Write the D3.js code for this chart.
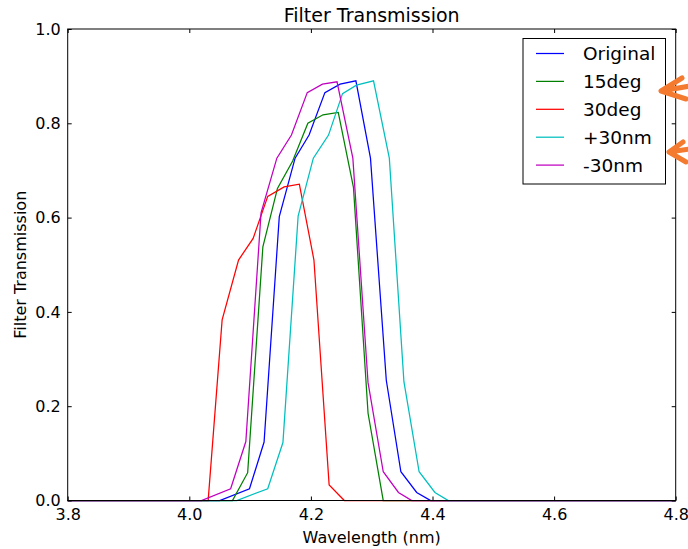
<!DOCTYPE html>
<html>
<head>
  <title>Filter Transmission</title>
  <script src="https://d3js.org/d3.v7.min.js"></script>
  <style>
    body { margin: 0; background: #fff; font-family: "DejaVu Sans", sans-serif; }
    .axis path, .axis line { fill: none; stroke: #000; }
    .axis text { font-size: 16px; fill: #000; }
    .title { font-size: 19px; text-anchor: middle; }
    .axis-label { font-size: 16px; text-anchor: middle; }
    .legend text { font-size: 18.5px; }
    .arrow { fill: none; stroke: #f47a30; stroke-width: 5; stroke-linecap: round; stroke-linejoin: round; }
  </style>
</head>
<body>
  <div id="chart"></div>
  <script>
    // data (wavelength as labelled, transmission 0..1)
    const seriesNames = ["Original", "15deg", "30deg", "+30nm", "-30nm"];
    const seriesColors = ["#0000ff", "#008000", "#ff0000", "#00bfbf", "#bf00bf"];

    const originalWl = [3.8, 4.05, 4.099, 4.123, 4.148, 4.174, 4.197, 4.223, 4.248, 4.274, 4.298, 4.324, 4.348, 4.374, 4.397, 4.8];
    const originalT  = [0, 0, 0.025, 0.124, 0.602, 0.726, 0.775, 0.865, 0.883, 0.890, 0.726, 0.255, 0.061, 0.017, 0, 0];

    const deg15Wl = [3.8, 4.071, 4.096, 4.121, 4.145, 4.170, 4.195, 4.220, 4.245, 4.270, 4.294, 4.319, 4.8];
    const deg15T  = [0, 0, 0.059, 0.538, 0.662, 0.720, 0.800, 0.818, 0.823, 0.664, 0.185, 0, 0];

    const deg30Wl = [3.8, 4.031, 4.054, 4.081, 4.105, 4.129, 4.156, 4.181, 4.205, 4.230, 4.255, 4.8];
    const deg30T  = [0, 0, 0.383, 0.510, 0.556, 0.645, 0.665, 0.671, 0.510, 0.033, 0, 0];

    const plus30Wl = [3.8, 4.078, 4.129, 4.154, 4.179, 4.204, 4.229, 4.252, 4.275, 4.303, 4.329, 4.353, 4.378, 4.404, 4.426, 4.8];
    const plus30T  = [0, 0, 0.025, 0.123, 0.603, 0.726, 0.775, 0.863, 0.881, 0.890, 0.726, 0.252, 0.061, 0.017, 0, 0];

    const minus30Wl = [3.8, 4.020, 4.068, 4.093, 4.118, 4.144, 4.168, 4.194, 4.219, 4.243, 4.269, 4.294, 4.319, 4.344, 4.366, 4.8];
    const minus30T  = [0, 0, 0.025, 0.125, 0.610, 0.726, 0.775, 0.865, 0.883, 0.888, 0.726, 0.250, 0.061, 0.017, 0, 0];

    const xTicks = [3.8, 4.0, 4.2, 4.4, 4.6, 4.8];
    const yTicks = [0.0, 0.2, 0.4, 0.6, 0.8, 1.0];

    const seriesData = [
      [originalWl, originalT],
      [deg15Wl, deg15T],
      [deg30Wl, deg30T],
      [plus30Wl, plus30T],
      [minus30Wl, minus30T]
    ].map(([wl, t], i) => ({
      name: seriesNames[i],
      color: seriesColors[i],
      points: wl.map((w, j) => ({ x: w, y: t[j] }))
    }));

    function renderChart(selection) {
      const W = 688, H = 549;
      const margin = { top: 29, right: 12.3, bottom: 48.5, left: 67.7 };
      const width = W - margin.left - margin.right;
      const height = H - margin.top - margin.bottom;

      const svg = selection.append("svg")
        .attr("width", W)
        .attr("height", H);

      const g = svg.append("g")
        .attr("transform", `translate(${margin.left},${margin.top})`);

      const x = d3.scaleLinear().domain([3.8, 4.8]).range([0, width]);
      const y = d3.scaleLinear().domain([0, 1]).range([height, 0]);

      // lines
      const line = d3.line().x(d => x(d.x)).y(d => y(d.y));
      g.selectAll(".series")
        .data(seriesData)
        .enter().append("path")
        .attr("class", "series")
        .attr("fill", "none")
        .attr("stroke", d => d.color)
        .attr("stroke-width", 1.25)
        .attr("d", d => line(d.points));

      // axes, ticks pointing inward on all four sides
      const fmt = d3.format(".1f");
      g.append("g").attr("class", "axis")
        .attr("transform", `translate(0,${height})`)
        .call(d3.axisBottom(x).tickValues(xTicks).tickFormat(fmt).tickSizeInner(-4).tickSizeOuter(0).tickPadding(8))
        .call(a => a.select(".domain").remove());
      g.append("g").attr("class", "axis")
        .call(d3.axisTop(x).tickValues(xTicks).tickFormat("").tickSizeInner(-4).tickSizeOuter(0))
        .call(a => a.select(".domain").remove());
      g.append("g").attr("class", "axis")
        .call(d3.axisLeft(y).tickValues(yTicks).tickFormat(fmt).tickSizeInner(-4).tickSizeOuter(0).tickPadding(7))
        .call(a => a.select(".domain").remove());
      g.append("g").attr("class", "axis")
        .attr("transform", `translate(${width},0)`)
        .call(d3.axisRight(y).tickValues(yTicks).tickFormat("").tickSizeInner(-4).tickSizeOuter(0))
        .call(a => a.select(".domain").remove());

      g.selectAll(".axis text").attr("font-family", "DejaVu Sans");

      // frame
      g.append("rect")
        .attr("width", width)
        .attr("height", height)
        .attr("fill", "none")
        .attr("stroke", "#000")
        .attr("stroke-width", 1);

      // title and labels
      svg.append("text")
        .attr("class", "title")
        .attr("x", margin.left + width / 2)
        .attr("y", 22)
        .text("Filter Transmission");

      svg.append("text")
        .attr("class", "axis-label")
        .attr("x", margin.left + width / 2)
        .attr("y", 543)
        .text("Wavelength (nm)");

      svg.append("text")
        .attr("class", "axis-label")
        .attr("transform", `translate(26,${margin.top + height / 2}) rotate(-90)`)
        .text("Filter Transmission");

      // legend
      const legend = svg.append("g")
        .attr("class", "legend")
        .attr("transform", "translate(523,38.5)");
      legend.append("rect")
        .attr("width", 142.5)
        .attr("height", 145.5)
        .attr("fill", "#fff")
        .attr("stroke", "#000")
        .attr("stroke-width", 1);
      const item = legend.selectAll(".item")
        .data(seriesData)
        .enter().append("g")
        .attr("class", "item")
        .attr("transform", (d, i) => `translate(0,${15 + i * 27.9})`);
      item.append("line")
        .attr("x1", 13).attr("x2", 41)
        .attr("stroke", d => d.color)
        .attr("stroke-width", 1.25);
      item.append("text")
        .attr("x", 60)
        .attr("dy", "0.36em")
        .text(d => d.name);

      // orange annotation arrows at the right edge
      const arrow = (tipX, tipY, upper, lower, tail) => {
        const p = d3.path();
        p.moveTo(upper[0], upper[1]);
        p.lineTo(tipX, tipY);
        p.lineTo(lower[0], lower[1]);
        p.moveTo(tipX, tipY);
        p.lineTo(tail[0], tail[1]);
        svg.append("path").attr("class", "arrow").attr("d", p.toString());
      };
      arrow(661, 91, [682, 78], [686, 99], [690, 86]);
      arrow(669, 152, [683, 142], [686, 162], [690, 149]);
    }

    renderChart(d3.select("#chart"));
  </script>
</body>
</html>
